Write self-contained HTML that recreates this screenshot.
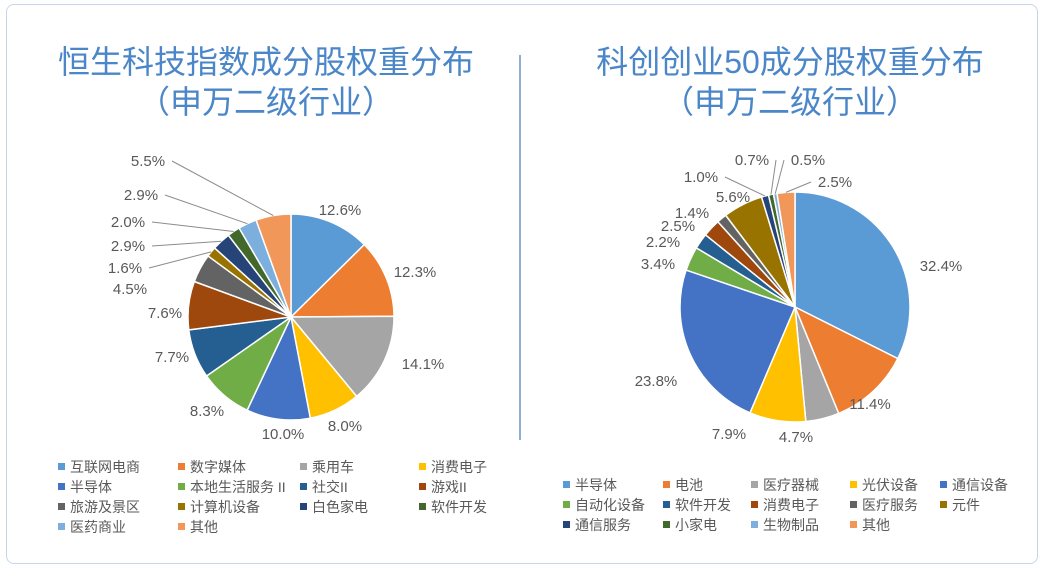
<!DOCTYPE html>
<html><head><meta charset="utf-8"><style>
body{margin:0;background:#fff;width:1046px;height:573px;overflow:hidden;font-family:"Liberation Sans","Noto Sans CJK SC",sans-serif}
#frame{position:absolute;left:6px;top:4px;width:1030px;height:558px;border:1.5px solid #c5d6ea;border-radius:8px}
.t{position:absolute;color:#4a86c8;font-size:32px;text-align:center;width:500px;line-height:40px}
</style></head><body>
<div id="frame"></div>
<div class="t" style="left:16px;top:42px">恒生科技指数成分股权重分布<br>（申万二级行业）</div>
<div class="t" style="left:540px;top:42px">科创创业50成分股权重分布<br>（申万二级行业）</div>
<div style="position:absolute;left:519px;top:55px;width:1.5px;height:385px;background:#8fb0d6"></div>
<svg id="s" width="1046" height="573" style="position:absolute;left:0;top:0"></svg>
<script>
const colors=["#5B9BD5","#ED7D31","#A5A5A5","#FFC000","#4472C4","#70AD47","#255E91","#9E480E","#636363","#997300","#264478","#43682B","#7CAFDD","#F1975A"];
const leftCats=["互联网电商","数字媒体","乘用车","消费电子","半导体","本地生活服务 II","社交II","游戏II","旅游及景区","计算机设备","白色家电","软件开发","医药商业","其他"];
const leftVals=[12.6,12.3,14.1,8.0,10.0,8.3,7.7,7.6,4.5,1.6,2.9,2.0,2.9,5.5];
const rightCats=["半导体","电池","医疗器械","光伏设备","通信设备","自动化设备","软件开发","消费电子","医疗服务","元件","通信服务","小家电","生物制品","其他"];
const rightVals=[32.4,11.4,4.7,7.9,23.8,3.4,2.2,2.5,1.4,5.6,1.0,0.7,0.5,2.5];
const leftLabelPos=[[340,210],[415,272],[423,364],[345,426],[283,434],[207,411],[172,357],[165,313],[130,289],[125,268],[128,246],[128,222],[141,195],[148,161]];
const rightLabelPos=[[941,266],[870,404],[796,437],[729,434],[656,381],[658,264],[663,242],[678,226],[692,213],[733,197],[701,177],[752,160],[808,160],[835,182]];
const svg=document.getElementById('s');const NS='http://www.w3.org/2000/svg';
function mk(t,a){const e=document.createElementNS(NS,t);for(const k in a)e.setAttribute(k,a[k]);svg.appendChild(e);return e;}
function pie(vals,cx,cy,r,lp,leaderFrom,name){
 const tot=vals.reduce((a,b)=>a+b,0);let a0=0;
 vals.forEach((v,i)=>{const a1=a0+v/tot*2*Math.PI;
  const p=a=>[cx+r*Math.sin(a),cy-r*Math.cos(a)];
  const [x0,y0]=p(a0),[x1,y1]=p(a1);const big=(a1-a0)>Math.PI?1:0;
  const e=mk('path',{d:`M${cx},${cy}L${x0},${y0}A${r},${r} 0 ${big} 1 ${x1},${y1}Z`,fill:colors[i],stroke:'#fff','stroke-width':1.5});
  
  
  const am=(a0+a1)/2;const [mx,my]=[cx+r*Math.sin(am),cy-r*Math.cos(am)];
  const [lx,ly]=lp[i];
  if(i>=leaderFrom){const ex=lx+(lx<cx?24:-24);
   const ln=mk('polyline',{points:`${ex},${ly}  ${mx},${my}`,fill:'none',stroke:'#8c8c8c','stroke-width':1});
   
   }
  const t=mk('text',{x:lx,y:ly+5,'text-anchor':'middle','font-size':15,fill:'#595959'});t.textContent=v.toFixed(1)+'%';
  
  
  a0=a1;});
}
pie(leftVals,291,317,103,leftLabelPos,9,'left');
pie(rightVals,795,307,115,rightLabelPos,10,'right');
function legend(cats,x0,y0,cols,offs,name){
 cats.forEach((c,i)=>{const x=x0+offs[i%cols],y=y0+Math.floor(i/cols)*20;
  const r=mk('rect',{x:x,y:y-4,width:7,height:7,fill:colors[i]});
  
  
  const t=mk('text',{x:x+12,y:y+5,'font-size':14,fill:'#595959'});t.textContent=c;
  
  });
}
legend(leftCats,58,467,4,[0,120,242,361],'left');
legend(rightCats,563,485,5,[0,100,188,287,377],'right');
</script>
</body></html>
